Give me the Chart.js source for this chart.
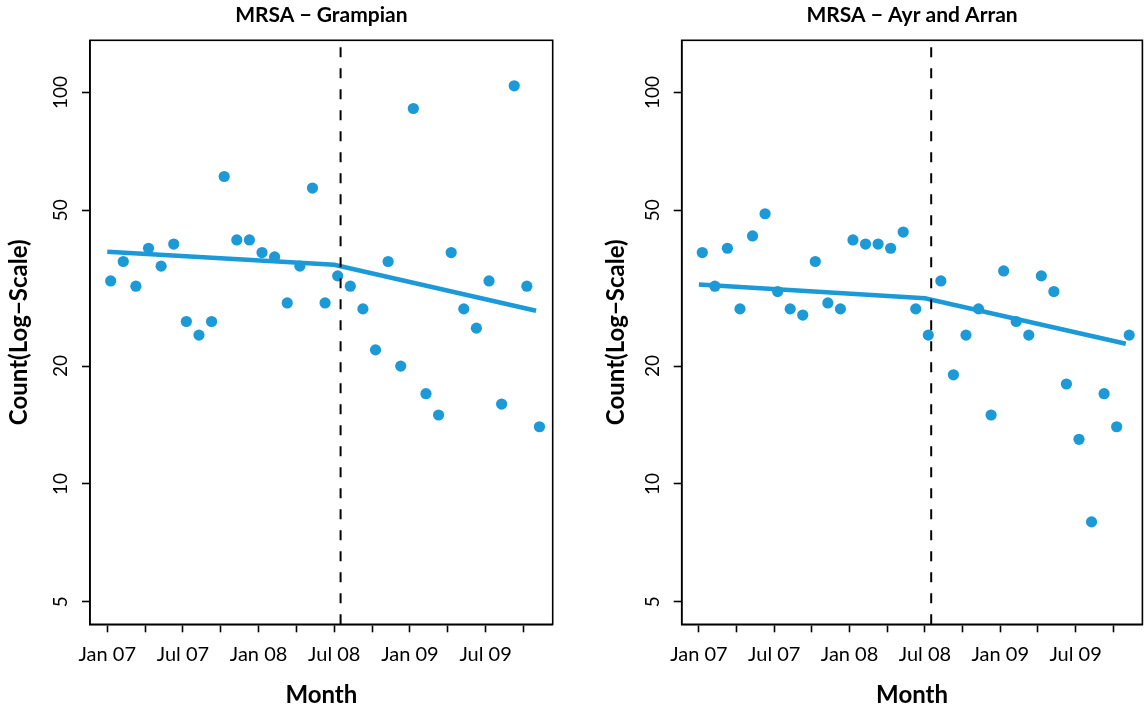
<!DOCTYPE html>
<html>
<head>
<meta charset="utf-8">
<script src="https://cdn.jsdelivr.net/npm/chart.js@4.4.1/dist/chart.umd.min.js"></script>
<style>
  html, body { margin: 0; padding: 0; background: #ffffff; }
  #wrap { position: relative; width: 1148px; height: 710px; overflow: hidden; }
  .panel { position: absolute; top: 0; width: 574px; height: 710px; }
</style>
</head>
<body>
<div id="wrap">
  <div class="panel" style="left:0px"><canvas id="grampian"></canvas></div>
  <div class="panel" style="left:574px"><canvas id="ayrArran"></canvas></div>
</div>
<script>
// Monthly MRSA counts, Jan 2007 - Nov 2009
const months = [
  'Jan 07','Feb 07','Mar 07','Apr 07','May 07','Jun 07','Jul 07','Aug 07','Sep 07','Oct 07','Nov 07','Dec 07',
  'Jan 08','Feb 08','Mar 08','Apr 08','May 08','Jun 08','Jul 08','Aug 08','Sep 08','Oct 08','Nov 08','Dec 08',
  'Jan 09','Feb 09','Mar 09','Apr 09','May 09','Jun 09','Jul 09','Aug 09','Sep 09','Oct 09','Nov 09'
];
const grampianCounts = [
  33, 37, 32, 40, 36, 41, 26, 24, 26, 61, 42, 42,
  39, 38, 29, 36, 57, 29, 34, 32, 28, 22, 37, 20,
  91, 17, 15, 39, 28, 25, 33, 16, 104, 32, 14
];
const ayrArranCounts = [
  39, 32, 40, 28, 43, 49, 31, 28, 27, 37, 29, 28,
  42, 41, 41, 40, 44, 28, 24, 33, 19, 24, 28, 15,
  35, 26, 24, 34, 31, 18, 13, 8, 17, 14, 24
];

// Segmented-regression fit: value at start, at the knot (Jul 08) and at the end
const trendMonths = [0, 18, 34];
const grampianTrend = [39.2, 36.3, 27.7];
const ayrArranTrend = [32.3, 29.8, 22.8];

// Intervention date (mid July 2008), in months since Jan 2007
const interventionMonth = 18.5;

// Counts are stamped about a week into each month
const pointOffset = 0.27;

// Axis ticks
const xTickMonths = [0, 3, 6, 9, 12, 15, 18, 21, 24, 27, 30, 33];
const xTickLabels = { 0: 'Jan 07', 6: 'Jul 07', 12: 'Jan 08', 18: 'Jul 08', 24: 'Jan 09', 30: 'Jul 09' };
const yTicks = [5, 10, 20, 50, 100];

const X_MIN = -1.37, X_MAX = 35.32;
const Y_MIN = 4.38, Y_MAX = 135.9;

const BLUE = '#1b9ad7';
const FONT = 'Lato, "Open Sans", "DejaVu Sans", sans-serif';

// Draws the closed frame round the plotting region
const frame = {
  id: 'frame',
  afterDraw(chart) {
    const { ctx, chartArea: a } = chart;
    ctx.save();
    ctx.strokeStyle = '#000';
    ctx.lineWidth = 1.6;
    ctx.strokeRect(a.left, a.top, a.right - a.left, a.bottom - a.top);
    ctx.restore();
  }
};

function makePanel(id, title, counts, trend, pad, yWidth) {
  const axisGrid = {
    display: true, drawOnChartArea: false, drawTicks: true,
    tickLength: 8, tickWidth: 1.6, tickColor: '#000'
  };
  const axisBorder = { display: true, color: '#000', width: 1.6 };

  return new Chart(document.getElementById(id), {
    data: {
      datasets: [
        {
          type: 'line',
          order: 0,
          data: [{ x: interventionMonth, y: Y_MIN }, { x: interventionMonth, y: Y_MAX }],
          borderColor: '#000',
          borderWidth: 2,
          borderDash: [10, 11],
          pointRadius: 0,
          fill: false
        },
        {
          type: 'line',
          order: 1,
          data: trendMonths.map((m, k) => ({ x: m, y: trend[k] })),
          borderColor: BLUE,
          borderWidth: 4.5,
          pointRadius: 0,
          fill: false,
          tension: 0
        },
        {
          type: 'scatter',
          order: 2,
          data: counts.map((v, i) => ({ x: i + pointOffset, y: v, label: months[i] })),
          pointRadius: 5.6,
          pointBackgroundColor: BLUE,
          pointBorderWidth: 0,
          showLine: false
        }
      ]
    },
    options: {
      responsive: true,
      maintainAspectRatio: false,
      animation: false,
      devicePixelRatio: 1,
      layout: { padding: { left: pad.left, right: pad.right, top: 0, bottom: 0 } },
      plugins: {
        legend: { display: false },
        tooltip: { enabled: false },
        title: {
          display: true,
          text: title,
          fullSize: false,
          color: '#000',
          font: { family: FONT, size: 21, weight: 'bold' },
          padding: { top: 2.5, bottom: 12.6 }
        }
      },
      scales: {
        x: {
          type: 'linear',
          position: 'bottom',
          min: X_MIN,
          max: X_MAX,
          afterBuildTicks: (s) => { s.ticks = xTickMonths.map(v => ({ value: v })); },
          afterFit: (s) => { s.height = 85.7; },
          ticks: {
            autoSkip: false, maxRotation: 0, minRotation: 0,
            padding: 10,
            color: '#000',
            font: { family: FONT, size: 20 },
            callback: (v) => xTickLabels[v] ?? ''
          },
          grid: axisGrid,
          border: axisBorder,
          title: {
            display: true, text: 'Month', color: '#000',
            font: { family: FONT, size: 24, weight: 'bold' },
            padding: { top: 0, bottom: 0 }
          }
        },
        y: {
          type: 'logarithmic',
          position: 'left',
          min: Y_MIN,
          max: Y_MAX,
          afterBuildTicks: (s) => { s.ticks = yTicks.map(v => ({ value: v })); },
          afterFit: (s) => { s.width = yWidth; },
          ticks: {
            autoSkip: false, minRotation: 90, maxRotation: 90,
            crossAlign: 'center',
            padding: 4.5,
            color: '#000',
            font: { family: FONT, size: 19 },
            callback: (v) => String(v)
          },
          grid: axisGrid,
          border: axisBorder,
          title: {
            display: true, text: 'Count(Log\u2212Scale)', color: '#000',
            font: { family: FONT, size: 24, weight: 'bold' },
            padding: { top: 4.6, bottom: 0 }
          }
        }
      }
    },
    plugins: [frame]
  });
}

makePanel('grampian', 'MRSA \u2212 Grampian', grampianCounts, grampianTrend, { left: 0, right: 21.3 }, 90);
makePanel('ayrArran', 'MRSA \u2212 Ayr and Arran', ayrArranCounts, ayrArranTrend, { left: 23, right: 4.3 }, 84.7);
</script>
</body>
</html>
